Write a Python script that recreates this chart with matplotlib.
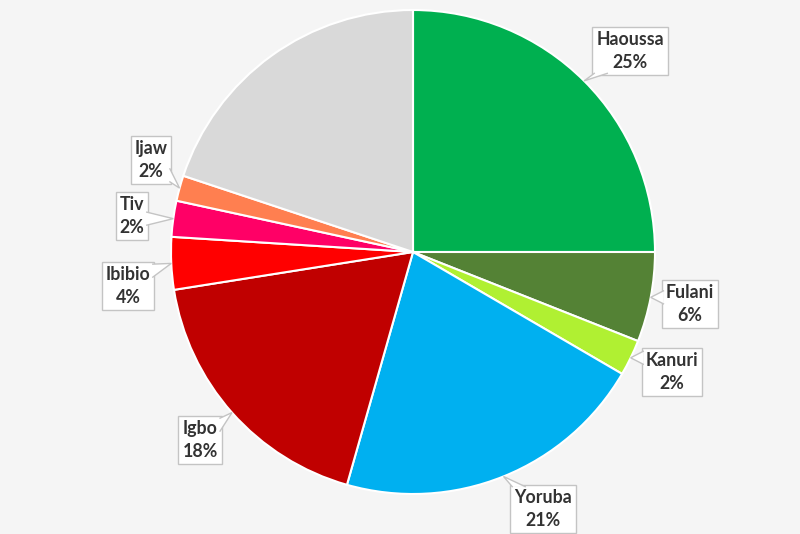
import matplotlib
matplotlib.use("Agg")
import matplotlib.pyplot as plt
from matplotlib.patches import Polygon
import numpy as np

labels = ["Haoussa", "Fulani", "Kanuri", "Yoruba", "Igbo", "Ibibio", "Tiv", "Ijaw", ""]
values = [25.0, 6.0, 2.4, 21.0, 18.1, 3.5, 2.4, 1.7, 19.9]
pct_labels = ["25%", "6%", "2%", "21%", "18%", "4%", "2%", "2%", None]
colors = ["#00b050", "#548235", "#b0f032", "#00b0f0", "#c00000",
          "#ff0000", "#ff0066", "#ff7f50", "#d9d9d9"]

# label box centres in pixel coords (layout)
box_px = [(630, 51), (690, 304), (672, 372), (543, 509), (200, 440),
          (128, 286), (132, 216), (151, 160), None]

W, H = 800, 534
cx, cy, R = 413, 252, 242
EDGE = "#c4c4c4"

fig = plt.figure(figsize=(8, 5.34), dpi=100)
fig.patch.set_facecolor("#f5f5f5")
ax = fig.add_axes([0, 0, 1, 1])
ax.set_facecolor("#f5f5f5")
ax.axis("off")

wedges, _ = ax.pie(values, colors=colors, startangle=90, counterclock=False,
                   radius=1.0, center=(0, 0),
                   wedgeprops=dict(edgecolor="white", linewidth=1.5))

ax.set_xlim(-cx / R, (W - cx) / R)
ax.set_ylim(-(H - cy) / R, cy / R)
ax.set_aspect("auto")

anns = []
for w, lab, pct, bp in zip(wedges, labels, pct_labels, box_px):
    if bp is None:
        continue
    ang = np.deg2rad((w.theta1 + w.theta2) / 2)
    tip = (np.cos(ang), np.sin(ang))
    tx = (bp[0] - cx) / R
    ty = (cy - bp[1]) / R
    t = ax.text(tx, ty, f"{lab}\n{pct}",
                ha="center", va="center", multialignment="center",
                fontsize=12.8, fontweight="bold", family=["Lato", "DejaVu Sans"],
                color="#333333", linespacing=1.42, zorder=3,
                bbox=dict(boxstyle="square,pad=0.22", fc="white", ec=EDGE, lw=1))
    anns.append((t, tip))

fig.canvas.draw()
inv = ax.transData.inverted()
half = 6.5
for t, tip in anns:
    ext = t.get_bbox_patch().get_window_extent()
    x0, y0, x1, y1 = ext.x0, ext.y0, ext.x1, ext.y1
    tpx, tpy = ax.transData.transform(tip)
    bcx, bcy = (x0 + x1) / 2, (y0 + y1) / 2
    hw, hh = (x1 - x0) / 2, (y1 - y0) / 2
    dx, dy = tpx - bcx, tpy - bcy
    if abs(dx) / hw > abs(dy) / hh:
        ex = x0 + 1.5 if dx < 0 else x1 - 1.5
        c = np.clip(tpy, y0 + half + 2, y1 - half - 2)
        b1, b2 = (ex, c - half), (ex, c + half)
    else:
        ey = y0 + 1.5 if dy < 0 else y1 - 1.5
        c = np.clip(tpx, x0 + half + 2, x1 - half - 2)
        b1, b2 = (c - half, ey), (c + half, ey)
    pts = inv.transform([b1, (tpx, tpy), b2])
    ax.add_patch(Polygon(pts, closed=True, fc="white", ec="none", zorder=3.5))
    ax.plot(pts[:, 0], pts[:, 1], color=EDGE, lw=1, zorder=3.6,
            solid_joinstyle="miter")

fig.savefig("out.png", dpi=100, facecolor=fig.get_facecolor())
